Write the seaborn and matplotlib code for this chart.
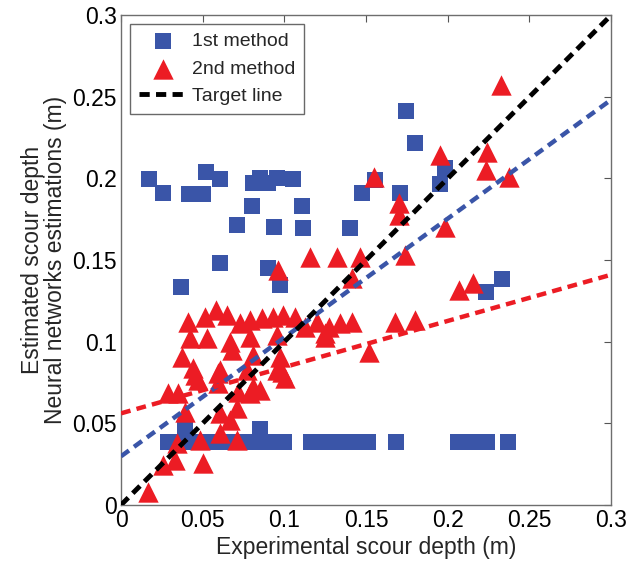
import numpy as np
import pandas as pd
import matplotlib
matplotlib.use("Agg")
import matplotlib.pyplot as plt
import seaborn as sns

# Experimental vs. estimated scour depth (m) for the two neural network methods
m1_x = [0.0173, 0.0255, 0.0416, 0.0504, 0.0520, 0.0606, 0.0810, 0.0851, 0.0902, 0.0953,
        0.1051, 0.0804, 0.1106, 0.0708, 0.0937, 0.1112, 0.0606, 0.0902, 0.0367, 0.0970,
        0.1745, 0.1800, 0.1984, 0.1950, 0.1474, 0.1708, 0.1555, 0.1402, 0.2331, 0.2233,
        0.029, 0.037, 0.045, 0.052, 0.058, 0.065, 0.071, 0.078, 0.086, 0.093, 0.100,
        0.116, 0.125, 0.134, 0.142, 0.151, 0.168, 0.206, 0.215, 0.224, 0.237,
        0.039, 0.085]
m1_y = [0.1996, 0.1909, 0.1903, 0.1903, 0.2041, 0.1996, 0.1970, 0.2000, 0.1970, 0.2000,
        0.1996, 0.1833, 0.1831, 0.1715, 0.1700, 0.1698, 0.1480, 0.1450, 0.1333, 0.1347,
        0.2415, 0.2219, 0.2062, 0.1966, 0.1909, 0.1909, 0.1990, 0.1694, 0.1384, 0.1302,
        0.0385, 0.0385, 0.0385, 0.0385, 0.0385, 0.0385, 0.0385, 0.0385, 0.0385, 0.0385, 0.0385,
        0.0385, 0.0385, 0.0385, 0.0385, 0.0385, 0.0385, 0.0385, 0.0385, 0.0385, 0.0385,
        0.0465, 0.0465]

m2_x = [0.0167, 0.0259, 0.0331, 0.0504, 0.0341, 0.0484, 0.0392, 0.0606, 0.0708, 0.0667,
        0.0606, 0.0708, 0.0290, 0.0351, 0.0718, 0.0473, 0.0453, 0.0596, 0.0596, 0.0372,
        0.0423, 0.0525, 0.0667, 0.0678, 0.0412, 0.0514, 0.0582, 0.0647, 0.0729, 0.0790,
        0.0862, 0.0933, 0.0994, 0.1066, 0.1127, 0.1270, 0.1341, 0.1413, 0.1249, 0.0953,
        0.0790, 0.0974, 0.0810, 0.0770, 0.0984, 0.1004, 0.0851, 0.0790, 0.0953, 0.0810,
        0.0443, 0.0606, 0.1198, 0.1678, 0.1800, 0.1515, 0.1250, 0.0963, 0.1157, 0.1321,
        0.1464, 0.1413, 0.1551, 0.1704, 0.1704, 0.1739, 0.1984, 0.1953, 0.2239, 0.2233,
        0.2372, 0.2327, 0.2066, 0.2157]
m2_y = [0.0081, 0.0245, 0.0276, 0.0255, 0.0378, 0.0398, 0.0571, 0.0439, 0.0398, 0.0520,
        0.0561, 0.0592, 0.0684, 0.0684, 0.0694, 0.0765, 0.0796, 0.0806, 0.0745, 0.0908,
        0.1021, 0.1021, 0.1000, 0.0949, 0.1123, 0.1153, 0.1194, 0.1163, 0.1113, 0.1133,
        0.1143, 0.1153, 0.1163, 0.1153, 0.1092, 0.1092, 0.1113, 0.1123, 0.1031, 0.1041,
        0.1031, 0.0908, 0.0919, 0.0827, 0.0816, 0.0776, 0.0704, 0.0684, 0.0827, 0.0724,
        0.0837, 0.0827, 0.1123, 0.1123, 0.1133, 0.0939, 0.1050, 0.1439, 0.1520, 0.1520,
        0.1520, 0.1388, 0.2010, 0.1847, 0.1776, 0.1531, 0.1704, 0.2143, 0.2164, 0.2051,
        0.2007, 0.2572, 0.1317, 0.1358]

# Linear trend lines: (intercept, slope)
fit_1st = (0.0298, 0.728)
fit_2nd = (0.0561, 0.283)

labels = ["1st method", "2nd method", "Target line"]
x_ticks = [0, 0.05, 0.1, 0.15, 0.2, 0.25, 0.3]
tick_text = ["0", "0.05", "0.1", "0.15", "0.2", "0.25", "0.3"]

BLUE = "#3a55a8"
RED = "#ec1c24"

sns.set_theme(style="white")
plt.rcParams["font.family"] = ["Liberation Sans", "DejaVu Sans"]

fig = plt.figure(figsize=(6.44, 5.61), dpi=100)
ax = fig.add_axes([0.188, 0.100, 0.761, 0.873])

df1 = pd.DataFrame({"x": m1_x, "y": m1_y})
df2 = pd.DataFrame({"x": m2_x, "y": m2_y})

sns.scatterplot(data=df1, x="x", y="y", marker="s", s=125, color=BLUE,
                linewidth=0, ax=ax, label=labels[0], zorder=3)
sns.scatterplot(data=df2, x="x", y="y", marker="^", s=215, color=RED,
                linewidth=0, ax=ax, label=labels[1], zorder=3)

xl = np.array([0.0, 0.3])
ax.plot(xl, fit_1st[0] + fit_1st[1] * xl, color=BLUE, lw=3.2,
        linestyle=(0, (2.2, 1.4)), zorder=4)
ax.plot(xl, fit_2nd[0] + fit_2nd[1] * xl, color=RED, lw=3.2,
        linestyle=(0, (2.2, 1.4)), zorder=4)
ax.plot(xl, xl, color="black", lw=3.5, linestyle=(0, (2.1, 1.3)),
        zorder=5, label=labels[2])

ax.set_xlim(0, 0.3)
ax.set_ylim(0, 0.3)
ax.set_xticks(x_ticks)
ax.set_yticks(x_ticks)
ax.set_xticklabels(tick_text)
ax.set_yticklabels(tick_text)
ax.tick_params(direction="in", length=5, width=0.8, color="#555555",
               top=True, right=True, labelsize=16.5, pad=3, labelcolor="black")
for sp in ax.spines.values():
    sp.set_color("#6e6e6e")
    sp.set_linewidth(1.0)

ax.set_xlabel("Experimental scour depth (m)", fontsize=16.5, labelpad=3)
ax.set_ylabel("Estimated scour depth\nNeural networks estimations (m)",
              fontsize=16.5, labelpad=4, linespacing=1.0)

leg = ax.legend(loc="upper left", bbox_to_anchor=(0.018, 0.982), fontsize=14,
                frameon=True, fancybox=False, edgecolor="#444444",
                handlelength=2.5, borderpad=0.45, labelspacing=0.5,
                handletextpad=0.25, borderaxespad=0)
leg.get_frame().set_linewidth(1.0)

fig.savefig("out.png", dpi=100)
